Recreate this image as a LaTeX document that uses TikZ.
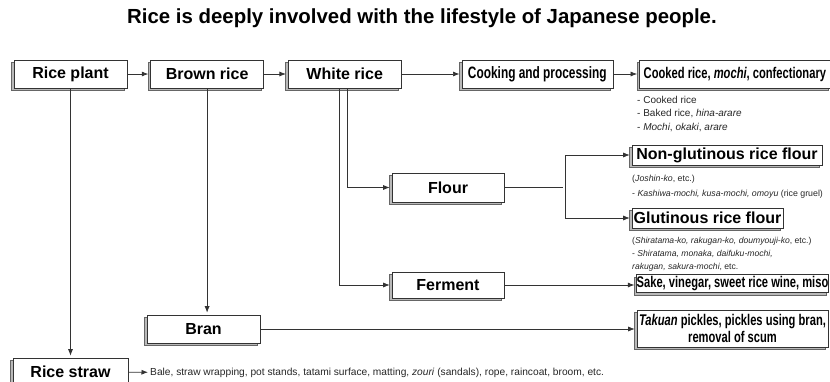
\documentclass[tikz,border=0pt]{standalone}
\usepackage{fontspec}
\setmainfont{Liberation Sans}
\newfontfamily\narrowfont[FakeStretch=0.72]{Liberation Sans}
\usetikzlibrary{arrows.meta,positioning,shadows}

\tikzset{
  box/.style={draw=black!80, fill=white, line width=0.6pt, minimum height=28pt, inner sep=1pt,
    font=\bfseries\fontsize{16}{17}\selectfont,
    copy shadow={shadow xshift=-2.5pt, shadow yshift=-2.5pt, fill=gray!55, draw=black!60}},
  narrowbox/.style={box, font=\narrowfont\bfseries\fontsize{15.5}{17}\selectfont},
  note/.style={anchor=north west, align=left, inner sep=0pt, text=black!85,
    font=\fontsize{10}{13.5}\selectfont},
  link/.style={draw=black!80, line width=0.7pt},
}

\begin{document}
\begin{tikzpicture}[x=1pt, y=-1pt, >={Latex[length=6.5pt,width=5pt]}, shorten >=2pt]
  \useasboundingbox (0,0) rectangle (830,381);

  \node[font=\bfseries\fontsize{20.4}{21}\selectfont] (title) at (422,18)
    {Rice is deeply involved with the lifestyle of Japanese people.};

  % top row
  \node[box, minimum width=113pt] (riceplant) at (70.5,74) {Rice plant};
  \node[box, minimum width=113pt, right=23pt of riceplant] (brownrice) {Brown rice};
  \node[box, minimum width=113pt, right=24pt of brownrice] (whiterice) {White rice};
  \node[narrowbox, minimum width=151pt, right=60pt of whiterice,
    font=\narrowfont\bfseries\fontsize{16.5}{17}\selectfont] (cooking) {Cooking and processing};
  \node[narrowbox, minimum width=191pt, right=26pt of cooking] (cooked) {Cooked rice, \textit{mochi}, confectionary};

  % middle
  \node[box, minimum width=112pt, minimum height=29pt] (flour) at (448,187.5) {Flour};
  \node[box, minimum width=190pt, minimum height=20pt] (nonglut) at (727,155) {Non-glutinous rice flour};
  \node[box, minimum width=151pt, minimum height=20pt] (glut) at (707.5,218) {Glutinous rice flour};
  \node[box, minimum width=112pt, minimum height=26pt] (ferment) at (448,285) {Ferment};
  \node[narrowbox, minimum width=191pt, minimum height=18pt, inner sep=0pt] (sake) at (732.5,283.5) {Sake, vinegar, sweet rice wine, miso};

  % bottom
  \node[box, minimum width=113pt] (bran) at (203.5,329) {Bran};
  \node[narrowbox, minimum width=191pt, minimum height=37pt, align=center,
    font=\narrowfont\bfseries\fontsize{15.5}{16.5}\selectfont] (takuan) at (732.5,328.5)
    {\textit{Takuan} pickles, pickles using bran,\\removal of scum};
  \node[box, minimum width=115pt] (ricestraw) at (70.5,372) {Rice straw};

  % notes
  \node[note] (cookednote) at (637,96)
    {- Cooked rice\\- Baked rice, \textit{hina-arare}\\- \textit{Mochi}, \textit{okaki}, \textit{arare}};
  \node[note, font=\fontsize{8.8}{15}\selectfont] (nonglutnote) at (632,175)
    {(\textit{Joshin-ko}, etc.)\\- \textit{Kashiwa-mochi, kusa-mochi, omoyu} (rice gruel)};
  \node[note, font=\fontsize{8.6}{12.8}\selectfont] (glutnote) at (632,237)
    {(\textit{Shiratama-ko, rakugan-ko, doumyouji-ko}, etc.)\\- \textit{Shiratama, monaka, daifuku-mochi,}\\\textit{rakugan, sakura-mochi}, etc.};
  \node[note, anchor=west, font=\fontsize{10.2}{12}\selectfont] (bale) at (150,373)
    {Bale, straw wrapping, pot stands, tatami surface, matting, \textit{zouri} (sandals), rope, raincoat, broom, etc.};

  % connectors
  \coordinate (flourdrop) at ([xshift=2.5pt]whiterice.south);
  \coordinate (fermentdrop) at ([xshift=-5.5pt]whiterice.south);
  \coordinate (fork) at (565,187.5);

  \draw[link,->] (riceplant) -- (brownrice);
  \draw[link,->] (brownrice) -- (whiterice);
  \draw[link,->] (whiterice) -- (cooking);
  \draw[link,->] (cooking) -- (cooked);
  \draw[link,->] (riceplant) -- (ricestraw);
  \draw[link,->] (brownrice.south) -- (brownrice.south |- bran.north);
  \draw[link,->] (flourdrop) |- (flour);
  \draw[link,->] (fermentdrop) |- (ferment);
  \draw[link] (flour) -- (fork);
  \draw[link,->] (fork) |- (nonglut.west);
  \draw[link,->] (fork) |- (glut.west);
  \draw[link,->] (ferment.east) -- (ferment.east -| sake.west);
  \draw[link,->] (bran.east) -- (bran.east -| takuan.west);
  \draw[link,->] (ricestraw) -- (bale);
\end{tikzpicture}
\end{document}
